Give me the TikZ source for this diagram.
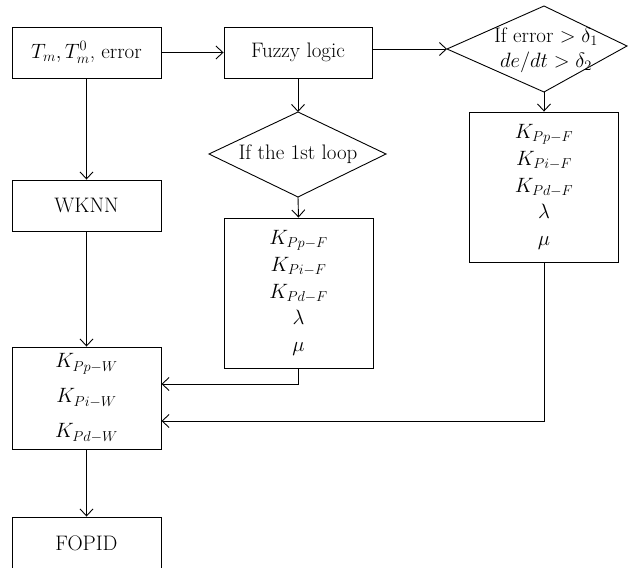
\documentclass[tikz,border=0pt]{standalone}
\usetikzlibrary{arrows.meta}
\newcommand\myfixedlines{\lineskiplimit=-30pt\relax}
\begin{document}
\begin{tikzpicture}[x=1pt,y=-1pt, line width=0.9pt,
  box/.style={draw, rectangle, minimum width=149pt, inner sep=0pt, align=center},
  arr/.style={-{Straight Barb[length=7pt,width=13pt]}},
  font=\fontsize{21}{24}\selectfont]
\useasboundingbox (0,0) rectangle (628,567);
\begin{scope}
\clip (0,0) rectangle (628,567);
% left column
\node[box, minimum height=51pt] (a) at (86.5,52.5) {$T_m, T_m^0$, error};
\node[box, minimum height=51pt] (w) at (86.5,205.5) {WKNN};
\node[box, minimum height=102pt, font=\fontsize{21}{35}\selectfont\myfixedlines] (kw) at (86.5,398)
  {$K_{Pp-W}$\\ $K_{Pi-W}$\\ $K_{Pd-W}$};
\node[box, minimum height=52pt] (fo) at (86.5,543) {FOPID};
% middle column
\node[box, minimum width=148pt, minimum height=51pt] (fz) at (298,52.5) {Fuzzy logic};
\coordinate (d1t) at (298,112);
\coordinate (d1l) at (209,154);
\coordinate (d1b) at (298,197);
\coordinate (d1r) at (386,154);
\draw (d1t) -- (d1r) -- (d1b) -- (d1l) -- cycle;
\node (d1) at (298,154) {If the 1st loop};
\node[box, minimum height=150pt, font=\fontsize{21}{26.7}\selectfont\myfixedlines] (p1) at (298.5,293)
  {$K_{Pp-F}$\\ $K_{Pi-F}$\\ $K_{Pd-F}$\\ $\lambda$\\ $\mu$};
% right column
\coordinate (d2t) at (544,6);
\coordinate (d2l) at (447,49);
\coordinate (d2b) at (544,92);
\coordinate (d2r) at (627,46);
\draw (d2t) -- (d2r) -- (d2b) -- (d2l) -- cycle;
\node[align=center, font=\fontsize{21}{25}\selectfont\myfixedlines] (d2) at (546,50)
  {If error $>\delta_1$\\ $de/dt>\delta_2$};
\node[box, minimum height=150pt, font=\fontsize{21}{26.7}\selectfont\myfixedlines] (p2) at (544,187)
  {$K_{Pp-F}$\\ $K_{Pi-F}$\\ $K_{Pd-F}$\\ $\lambda$\\ $\mu$};
% connectors
\draw[arr] (a.east) -- (fz.west);
\draw[arr] (fz.east |- d2l) -- (d2l);
\draw[arr] (fz.south) -- (d1t);
\draw[arr] (d1b) -- (p1.north);
\draw[arr] (d2b) -- (p2.north);
\draw[arr] (a.south) -- (w.north);
\draw[arr] (w.south) -- (kw.north);
\draw[arr] (kw.south) -- (fo.north);
\draw[arr] (p1.south) |- ([yshift=14pt]kw.east);
\draw[arr] (p2.south) |- ([yshift=-23pt]kw.east);
\end{scope}
\end{tikzpicture}
\end{document}
